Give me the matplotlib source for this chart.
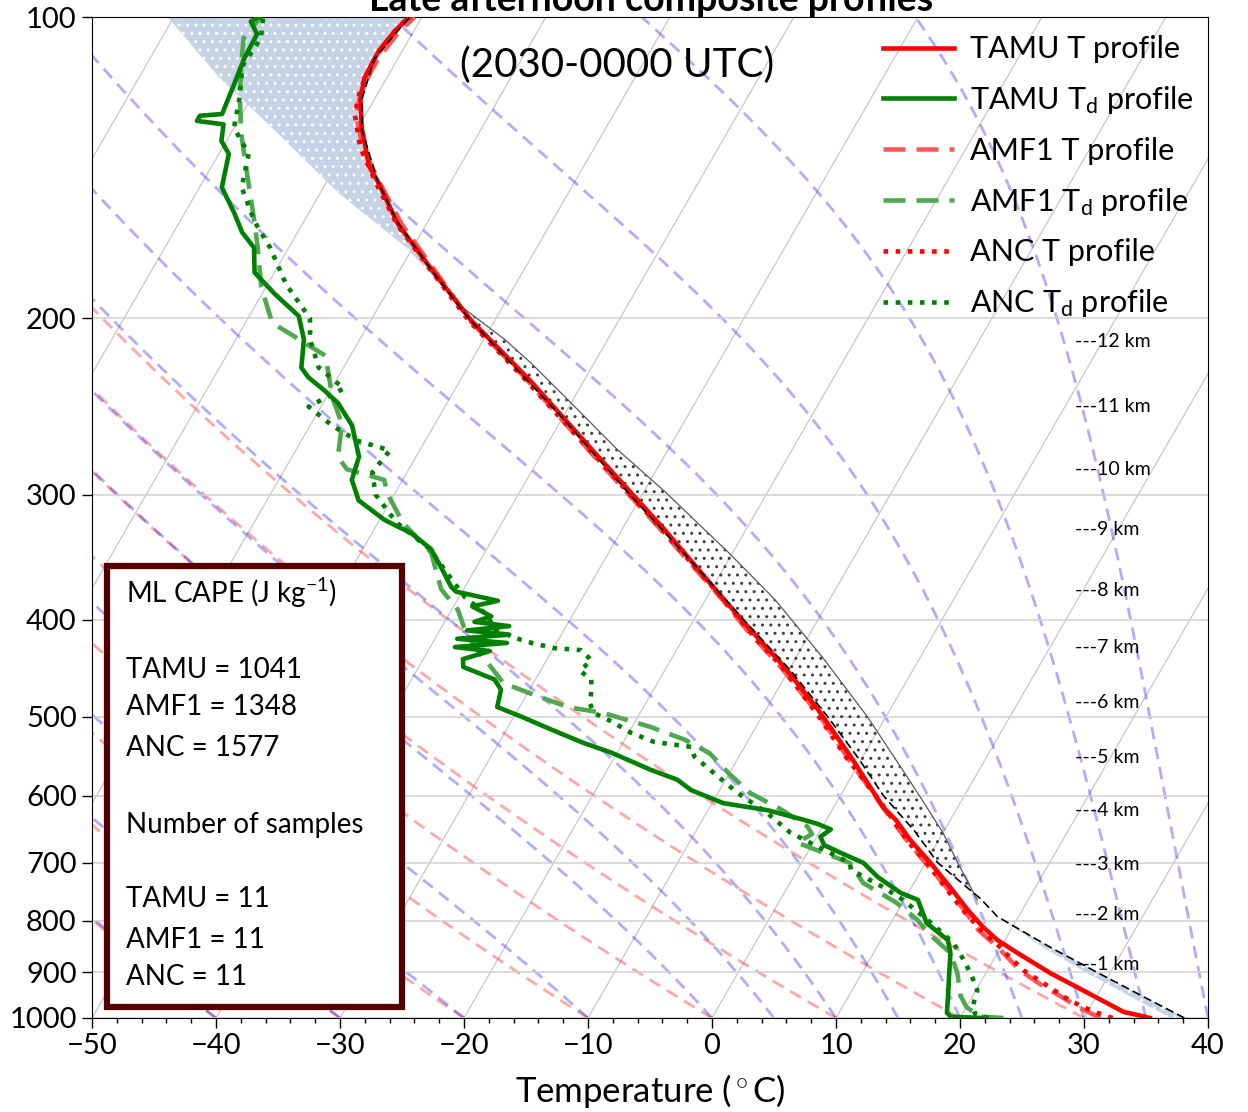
import numpy as np
import matplotlib
matplotlib.use('Agg')
import matplotlib.pyplot as plt
from matplotlib.transforms import Affine2D, blended_transform_factory
from matplotlib.patches import Rectangle
from matplotlib.ticker import MultipleLocator, NullLocator

plt.rcParams['font.family'] = ['Lato', 'DejaVu Sans']
plt.rcParams['mathtext.fontset'] = 'custom'
plt.rcParams['mathtext.rm'] = 'Lato'
plt.rcParams['mathtext.it'] = 'Lato:italic'

# ---------------- data ----------------
# TAMU temperature (hPa, degC)
p_tamu_t = [1000, 995, 986, 938, 902, 861, 836, 811, 780, 740, 700, 664, 634, 616, 548,
            492, 446, 410, 382, 325, 275, 231, 201, 179, 161, 146, 141, 129, 121, 115,
            108, 103, 100]
t_tamu = [35.3, 34.5, 32.9, 28.6, 25.2, 21.6, 19.4, 17.6, 15.6, 13.1, 10.4, 7.7, 5.6, 4.0, -1.0,
          -5.8, -10.5, -14.9, -18.5, -26.6, -35.3, -44.3, -51.9, -57.4, -62.3, -65.9, -67.3, -69.7,
          -71.1, -71.8, -71.9, -71.5, -71.0]

# AMF1 temperature
p_amf1_t = [1000, 990, 975, 950, 933, 896, 849, 817, 780, 740, 700, 664, 630, 600, 548, 500,
            446, 410, 380, 325, 275, 231, 201, 179, 161, 146, 135, 125, 118, 110, 104, 100]
t_amf1 = [31.3, 30.4, 29.0, 27.0, 25.5, 22.6, 19.7, 17.4, 15.3, 12.8, 10.0, 7.4, 5.0, 2.8, -1.3,
          -5.3, -10.8, -15.2, -18.9, -26.9, -35.6, -44.5, -52.0, -57.2, -62.0, -65.8, -68.7,
          -70.8, -71.5, -71.6, -71.2, -70.6]

# ANC temperature
p_anc_t = [1000, 988, 975, 955, 933, 896, 870, 849, 817, 780, 740, 700, 664, 630, 600, 548,
           500, 446, 410, 380, 325, 275, 231, 201, 179, 161, 146, 135, 125, 118, 110, 104, 100]
t_anc = [32.3, 30.8, 29.4, 27.6, 25.9, 22.9, 21.2, 19.9, 17.6, 15.2, 12.7, 10.1, 7.4, 5.1, 2.9,
         -1.4, -5.4, -10.7, -15.1, -18.8, -26.8, -35.5, -44.6, -52.1, -57.5, -62.4, -66.1, -68.9,
         -70.9, -71.6, -71.9, -71.6, -71.1]

# TAMU dewpoint
p_tamu_td = [1000, 997, 988, 950, 900, 861, 836, 804, 762, 750, 723, 700, 684, 672, 659, 648,
             640, 634, 620, 610, 592, 578, 565, 543, 531, 515, 500, 489, 470, 459, 446, 438,
             430, 426, 422, 418, 414, 410, 406, 402, 397, 388, 383, 375, 371, 354, 340, 328,
             318, 304, 290, 275, 256, 243, 236, 229, 224, 210, 199, 189, 180, 170, 164, 157,
             148, 137, 133, 128, 127, 125.5, 125, 117, 110, 104, 101, 100]
td_tamu = [21.8, 19.2, 18.7, 18.0, 17.0, 16.2, 15.4, 12.9, 11.1, 9.4, 6.8, 5.0, 2.7, 1.0, 0.3, 0.8,
           -0.5, -1.8, -5.2, -9.1, -12.3, -13.9, -16.5, -20.5, -23.2, -26.4, -29.4, -31.8, -32.3,
           -33.3, -36.4, -36.8, -35.0, -38.0, -34.0, -38.2, -34.2, -37.8, -34.6, -37.6, -36.5,
           -38.5, -36.7, -40.5, -41.1, -42.9, -44.5, -46.8, -49.6, -52.6, -54.1, -54.6, -56.6,
           -58.8, -60.5, -62.4, -63.4, -64.5, -66.0, -69.0, -71.6, -72.8, -74.5, -76.0, -78.2,
           -79.2, -80.4, -81.0, -83.3, -83.3, -81.6, -82.0, -82.4, -82.5, -83.6, -83.1]

# AMF1 dewpoint
p_amf1_td = [1000, 997, 992, 975, 950, 902, 861, 830, 811, 798, 767, 733, 700, 668, 655, 644,
             620, 596, 570, 544, 527, 512, 496, 489, 478, 463, 442, 425, 407, 391, 373, 343,
             320, 300, 290, 283, 275, 255, 240, 218, 204, 201, 186, 170, 160, 148, 131, 120,
             110, 105, 100]
td_amf1 = [23.5, 21.6, 21.2, 20.0, 19.0, 17.7, 16.2, 14.0, 12.8, 12.0, 9.5, 5.9, 3.9, -1.3, -0.5,
           -1.2, -4.0, -7.4, -10.0, -12.5, -15.2, -18.5, -22.9, -26.1, -28.8, -32.4, -34.6, -36.5,
           -38.2, -39.5, -41.8, -44.3, -48.0, -50.5, -51.5, -55.0, -56.3, -57.5, -59.5, -62.0,
           -67.1, -68.0, -70.4, -72.5, -74.0, -76.0, -79.1, -81.0, -82.6, -83.4, -83.0]

# ANC dewpoint
p_anc_td = [1000, 990, 975, 938, 916, 889, 875, 842, 803, 762, 740, 711, 700, 653, 624, 596,
            548, 536, 530, 519, 505, 496, 485, 470, 459, 450, 439, 429, 427, 422, 419, 410,
            395, 380, 360, 340, 320, 300, 285, 271, 265, 256, 245, 235, 224, 210, 200, 185,
            170, 160, 148, 137, 129, 120, 112, 105, 100]
td_anc = [22.3, 21.0, 20.5, 20.1, 19.3, 18.2, 17.6, 16.0, 13.2, 9.9, 7.7, 4.3, 3.9, -2.3, -5.1,
          -8.4, -13.6, -14.3, -17.5, -19.8, -22.0, -23.7, -24.5, -25.0, -25.5, -26.8, -26.4,
          -27.7, -30.0, -32.0, -33.0, -35.5, -37.0, -39.5, -42.0, -44.6, -48.5, -51.5, -52.8,
          -52.4, -55.5, -58.2, -61.0, -59.0, -62.0, -64.0, -65.0, -68.5, -71.5, -74.0, -76.6,
          -77.6, -80.0, -81.0, -82.2, -82.0, -82.8]

# TAMU environmental virtual temperature (black dashed)
p_tv = [1000, 950, 900, 850, 792, 760, 700, 650, 600, 550, 500, 450, 400, 350, 300, 250, 200,
        180, 160, 146, 130, 121, 110, 100]
tv_env = [38.1, 33.6, 28.9, 24.0, 18.3, 16.1, 11.0, 7.6, 3.5, -0.3, -4.7, -9.8, -16.0, -22.9,
          -31.0, -40.3, -52.2, -57.2, -62.5, -65.9, -69.5, -71.0, -71.9, -71.0]

# mixed-layer parcel
p_parcel = [1000, 950, 900, 850, 792, 762, 700, 653, 600, 561, 500, 436, 382, 343, 298, 270,
            243, 222, 210, 193, 170, 150, 130, 115, 100]
t_parcel = [37.0, 32.6, 28.0, 23.4, 18.3, 15.9, 12.6, 10.0, 6.4, 3.5, -1.5, -7.9, -14.4, -20.3,
            -28.3, -34.2, -40.0, -45.0, -48.3, -53.9, -60.5, -68.5, -76.5, -83.5, -90.5]

# height markers
km_heights = [1, 2, 3, 4, 5, 6, 7, 8, 9, 10, 11, 12]
km_pressures = [885, 789, 702, 621, 549, 484, 426, 374, 325, 283, 245, 211]

cape_lines = ['ML CAPE (J kg$^{-1}$)', 'TAMU = 1041', 'AMF1 = 1348', 'ANC = 1577',
              'Number of samples', 'TAMU = 11', 'AMF1 = 11', 'ANC = 11']
cape_y = [593, 670, 707, 748, 825, 899, 940, 977]

# ---------------- figure ----------------
FW, FH = 12.48, 11.12
fig = plt.figure(figsize=(FW, FH), dpi=100)
ax_rect = [92 / 1248, 94 / 1112, 1116 / 1248, 1001 / 1112]
ax = fig.add_axes(ax_rect)
ax.set_yscale('log')
ax.set_xlim(-50, 40)
ax.set_ylim(1000, 100)
ax.set_autoscale_on(False)

# skew-x transform (isotherms at 30 deg from vertical on screen)
s = np.tan(np.radians(30)) * (ax_rect[3] * FH) / (ax_rect[2] * FW)
skew = (ax.transData + ax.transAxes.inverted()
        + Affine2D(np.array([[1, s, 0], [0, 1, 0], [0, 0, 1.0]])) + ax.transAxes)

pbg = np.logspace(3, 2, 300)

# isotherms
for t0 in np.arange(-100, 41, 10):
    ax.plot(np.full_like(pbg, t0), pbg, color='0.78', lw=0.9, transform=skew, zorder=1)

# dry adiabats
for t0 in np.arange(-50, 31, 10):
    ax.plot((t0 + 273.15) * (pbg / 1000) ** 0.2857 - 273.15, pbg, color='red', alpha=0.35,
            lw=2, dashes=(4.5, 2.8), transform=skew, zorder=1.5)

# moist adiabats (RK4 integration of the pseudo-adiabatic lapse rate)
def dtdp(pp, tt):
    es = 6.112 * np.exp(17.67 * (tt - 273.15) / (tt - 29.65))
    rs = 0.622 * es / (pp - es)
    return (287.04 * tt + 2.501e6 * rs) / (1005.7 + 2.501e6 ** 2 * rs * 0.622 / (287.04 * tt * tt)) / pp

moist_t0 = np.concatenate((np.arange(-50, 0, 10), np.arange(0, 41, 5))) + 273.15
pm = np.linspace(1000, 100, 901)
tm = np.empty((len(pm), len(moist_t0)))
tm[0] = moist_t0
for i in range(1, len(pm)):
    h = pm[i] - pm[i - 1]
    p0, t0 = pm[i - 1], tm[i - 1]
    k1 = dtdp(p0, t0)
    k2 = dtdp(p0 + h / 2, t0 + h / 2 * k1)
    k3 = dtdp(p0 + h / 2, t0 + h / 2 * k2)
    k4 = dtdp(p0 + h, t0 + h * k3)
    tm[i] = t0 + h / 6 * (k1 + 2 * k2 + 2 * k3 + k4)
for j in range(len(moist_t0)):
    ax.plot(tm[:, j] - 273.15, pm, color='blue', alpha=0.32, lw=2, dashes=(4.5, 2.8),
            transform=skew, zorder=1.5)

# grid / ticks
ax.set_yticks(range(100, 1001, 100))
ax.set_yticklabels([str(v) for v in range(100, 1001, 100)])
ax.yaxis.set_minor_locator(NullLocator())
ax.yaxis.grid(True, color='0.82', lw=1.1, zorder=0)
ax.set_xticks(range(-50, 41, 10))
ax.xaxis.set_minor_locator(MultipleLocator(2))
ax.tick_params(axis='both', which='major', labelsize=21, length=7, width=1, pad=4)
ax.tick_params(axis='x', which='minor', length=3.5, width=1)
ax.set_xlabel('Temperature ($^\\circ$C)', fontsize=25, labelpad=9)


def on_grid(pg, p, t):
    return np.interp(np.log(pg), np.log(np.asarray(p)[::-1]), np.asarray(t)[::-1])


# CAPE shading
pg = np.logspace(np.log10(770), np.log10(193), 300)
tp_g = on_grid(pg, p_parcel, t_parcel)
te_g = on_grid(pg, p_tv, tv_env)
ax.fill_betweenx(pg, te_g, tp_g, where=tp_g >= te_g, facecolor='none', edgecolor='0.25',
                 hatch='..', lw=0, transform=skew, zorder=2)

# CIN shading (top and near surface)
for p_lo, p_hi in [(193, 100), (1000, 792)]:
    pg = np.logspace(np.log10(p_lo), np.log10(p_hi), 200)
    ax.fill_betweenx(pg, on_grid(pg, p_parcel, t_parcel), on_grid(pg, p_tv, tv_env),
                     facecolor='#c6d3e6', edgecolor='white', hatch='..', lw=0,
                     transform=skew, zorder=2)

# parcel line above the LCL
pp_arr = np.array(p_parcel)
keep = (pp_arr <= 770) & (pp_arr >= 193)
ax.plot(np.array(t_parcel)[keep], pp_arr[keep], color='0.35', lw=0.9, transform=skew, zorder=3)

# sounding profiles
LW = 3.3
ax.plot(td_amf1, p_amf1_td, color='#4fa84f', lw=LW, dashes=(4.8, 2.4), transform=skew, zorder=4,
        label='AMF1 T$_\\mathrm{d}$ profile')
ax.plot(td_anc, p_anc_td, color='green', lw=LW, ls=':', transform=skew, zorder=4,
        label='ANC T$_\\mathrm{d}$ profile')
ax.plot(td_tamu, p_tamu_td, color='green', lw=LW, transform=skew, zorder=5,
        label='TAMU T$_\\mathrm{d}$ profile')
ax.plot(t_amf1, p_amf1_t, color='#ff5757', lw=LW, dashes=(4.8, 2.4), transform=skew, zorder=4,
        label='AMF1 T profile')
ax.plot(t_anc, p_anc_t, color='red', lw=LW, ls=':', transform=skew, zorder=4,
        label='ANC T profile')
ax.plot(t_tamu, p_tamu_t, color='red', lw=LW, transform=skew, zorder=5,
        label='TAMU T profile')
ax.plot(tv_env, p_tv, color='black', lw=1.2, dashes=(5, 2.5), transform=skew, zorder=6)

handles, labels = ax.get_legend_handles_labels()
order = ['TAMU T profile', 'TAMU T$_\\mathrm{d}$ profile', 'AMF1 T profile',
         'AMF1 T$_\\mathrm{d}$ profile', 'ANC T profile', 'ANC T$_\\mathrm{d}$ profile']
hmap = dict(zip(labels, handles))
ax.legend([hmap[k] for k in order], order, loc='upper right', frameon=False, fontsize=22,
          handlelength=2.3, handletextpad=0.55, labelspacing=0.68, borderaxespad=0.2,
          bbox_to_anchor=(1.004, 1.0))

# height labels
km_tr = blended_transform_factory(ax.transAxes, ax.transData)
for h, p in zip(km_heights, km_pressures):
    ax.text(0.881, p, f'---{h} km', transform=km_tr, va='center', ha='left', fontsize=14,
            zorder=7)

# titles
fig.text(651 / 1248, 1 - 11 / 1112, 'Late afternoon composite profiles', ha='center',
         va='baseline', fontsize=27, fontweight='bold')
fig.text(617 / 1248, 1 - 65 / 1112, '(2030-0000 UTC)', ha='center', va='center', fontsize=29)

# CAPE box
box = Rectangle((107 / 1248, 1 - 1007 / 1112), 295 / 1248, 441 / 1112, transform=fig.transFigure,
                facecolor='white', edgecolor='#520000', lw=4.5, zorder=20)
fig.add_artist(box)
for txt, yy in zip(cape_lines, cape_y):
    fig.text(126 / 1248, 1 - yy / 1112, txt, ha='left', va='center', fontsize=20, zorder=21)

fig.savefig('out.png', dpi=100)
